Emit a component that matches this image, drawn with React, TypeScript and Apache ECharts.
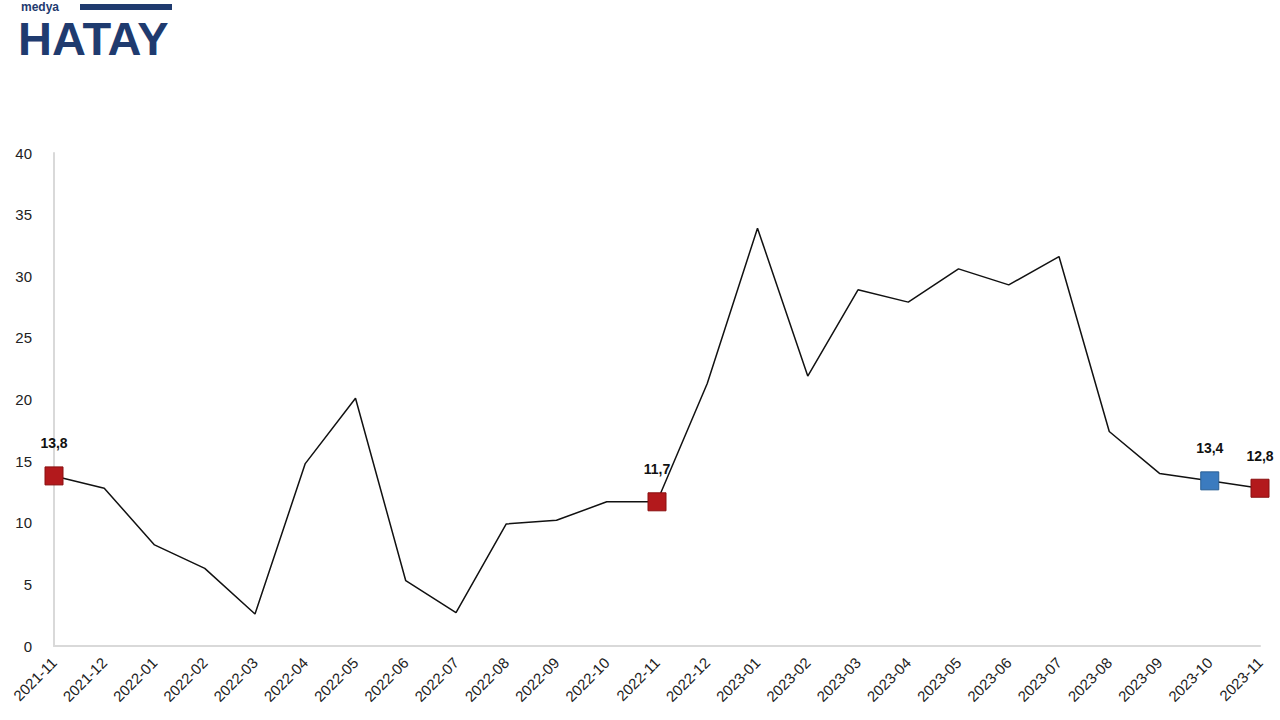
import React, { useEffect, useRef } from "react";
import * as echarts from "echarts";

const categories = [
  "2021-11", "2021-12", "2022-01", "2022-02", "2022-03", "2022-04", "2022-05",
  "2022-06", "2022-07", "2022-08", "2022-09", "2022-10", "2022-11", "2022-12",
  "2023-01", "2023-02", "2023-03", "2023-04", "2023-05", "2023-06", "2023-07",
  "2023-08", "2023-09", "2023-10", "2023-11",
];
const values = [
  13.8, 12.8, 8.2, 6.3, 2.6, 14.8, 20.1, 5.3, 2.7, 9.9, 10.2, 11.7, 11.7, 21.3,
  33.9, 21.9, 28.9, 27.9, 30.6, 29.3, 31.6, 17.4, 14.0, 13.4, 12.8,
];
const redMarks = [0, 12, 24];
const blueMarks = [23];
const yTicks = { min: 0, max: 40, interval: 5 };

export default function App() {
  const ref = useRef<HTMLDivElement>(null);
  useEffect(() => {
    if (!ref.current) return;
    const chart = echarts.init(ref.current, null, { renderer: "svg" });
    const data = values.map((v, i) => {
      const isRed = redMarks.includes(i);
      const isBlue = blueMarks.includes(i);
      if (!isRed && !isBlue) return { value: v, symbolSize: 0, label: { show: false } };
      return {
        value: v,
        symbol: "rect",
        symbolSize: 18,
        itemStyle: {
          color: isRed ? "#b3191c" : "#3b7bbf",
          borderColor: isRed ? "#8a1010" : "#2a5f95",
          borderWidth: 1,
        },
        label: {
          show: true,
          position: "top",
          distance: 16,
          formatter: () => v.toFixed(1).replace(".", ","),
          fontWeight: "bold",
          fontSize: 14,
          color: "#111",
          fontFamily: "Liberation Sans, Arial, sans-serif",
        },
      };
    });
    chart.setOption({
      animation: false,
      backgroundColor: "#ffffff",
      grid: { left: 54, right: 20, top: 153, bottom: 74, containLabel: false },
      graphic: [
        {
          type: "text",
          left: 21,
          top: 1,
          style: {
            text: "medya",
            fontSize: 12,
            lineHeight: 12,
            fontWeight: "bold",
            fill: "#1f3b6f",
            fontFamily: "Liberation Sans, Arial, sans-serif",
          },
        },
        {
          type: "rect",
          shape: { x: 80, y: 4, width: 92, height: 6 },
          style: { fill: "#1f3b6f" },
        },
        {
          type: "text",
          left: 18,
          top: 15,
          style: {
            text: "HATAY",
            fontSize: 47,
            lineHeight: 38,
            fontWeight: "900",
            fill: "#1f3b6f",
            fontFamily: "Liberation Sans, Arial, sans-serif",
          },
        },
      ],
      xAxis: {
        type: "category",
        data: categories,
        boundaryGap: false,
        axisLine: { show: true, lineStyle: { color: "#d9d9d9", width: 2 } },
        axisTick: { show: false },
        axisLabel: {
          rotate: 45,
          interval: 0,
          margin: 14,
          fontSize: 15,
          color: "#222",
          fontFamily: "Liberation Sans, Arial, sans-serif",
        },
        splitLine: { show: false },
      },
      yAxis: {
        type: "value",
        min: yTicks.min,
        max: yTicks.max,
        interval: yTicks.interval,
        axisLine: { show: true, lineStyle: { color: "#d9d9d9", width: 2 } },
        axisTick: { show: false },
        axisLabel: {
          margin: 22,
          fontSize: 15,
          color: "#222",
          fontFamily: "Liberation Sans, Arial, sans-serif",
        },
        splitLine: { show: false },
      },
      series: [
        {
          type: "line",
          data,
          symbol: "none",
          showAllSymbol: true,
          lineStyle: { color: "#111", width: 1.5 },
          z: 3,
        },
      ],
    });
    return () => chart.dispose();
  }, []);
  return <div ref={ref} style={{ width: 1280, height: 720, position: "absolute", left: 0, top: 0 }} />;
}
